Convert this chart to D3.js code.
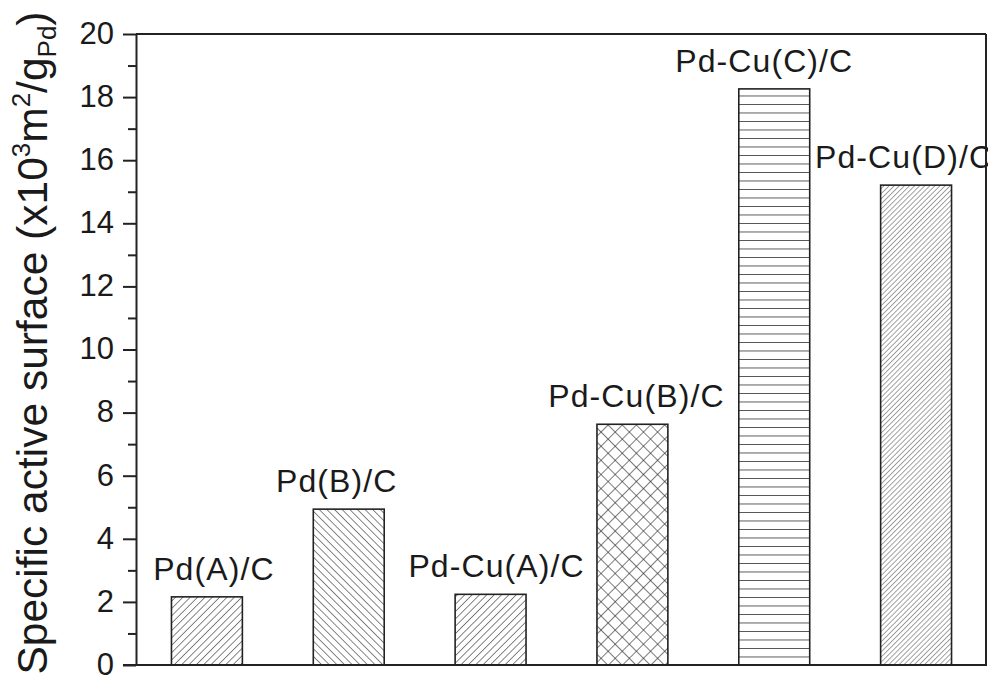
<!DOCTYPE html>
<html>
<head>
<meta charset="utf-8">
<script src="https://cdn.jsdelivr.net/npm/d3@7"></script>
<style>
  html, body { margin: 0; padding: 0; background: #fff; }
  svg { display: block; font-family: "Liberation Sans", Arial, Helvetica, sans-serif; }
</style>
</head>
<body>
<svg id="chart" width="988" height="678"></svg>
<script>
// ---- data ----
const categories = ["Pd(A)/C", "Pd(B)/C", "Pd-Cu(A)/C", "Pd-Cu(B)/C", "Pd-Cu(C)/C", "Pd-Cu(D)/C"];
const values = [2.16, 4.94, 2.24, 7.63, 18.26, 15.21];
const yTicks = [0, 2, 4, 6, 8, 10, 12, 14, 16, 18, 20];
const yMinorTicks = [1, 3, 5, 7, 9, 11, 13, 15, 17, 19];

// ---- layout / style (not data) ----
const hatchStyles = ["fwd", "back", "fwd", "cross", "horiz", "fwdDense"];
const labelShift = [7, -12, 6, 4, -10, -12];
const M = { left: 136, top: 34, right: 987, bottom: 665 };

const svg = d3.select("#chart");
const defs = svg.append("defs");

function diagPattern(id, spacing, angle, sw, color) {
  const p = defs.append("pattern").attr("id", id)
    .attr("patternUnits", "userSpaceOnUse")
    .attr("width", spacing).attr("height", spacing)
    .attr("patternTransform", `rotate(${angle})`);
  p.append("line").attr("x1", 0).attr("y1", -1).attr("x2", 0).attr("y2", spacing + 1)
    .attr("stroke", color).attr("stroke-width", sw);
}
diagPattern("fwd", 5.2, 45, 1.1, "#222");
diagPattern("back", 5.4, -45, 1.1, "#222");
diagPattern("fwdDense", 3.6, 45, 1.0, "#444");
{
  const s = 10;
  const p = defs.append("pattern").attr("id", "cross")
    .attr("patternUnits", "userSpaceOnUse").attr("width", s).attr("height", s)
    .attr("patternTransform", "rotate(45)");
  p.append("line").attr("x1", 0).attr("y1", -1).attr("x2", 0).attr("y2", s + 1)
    .attr("stroke", "#222").attr("stroke-width", 1.2);
  p.append("line").attr("x1", -1).attr("y1", 0).attr("x2", s + 1).attr("y2", 0)
    .attr("stroke", "#222").attr("stroke-width", 1.2);
}
{
  const s = 8.5;
  const p = defs.append("pattern").attr("id", "horiz")
    .attr("patternUnits", "userSpaceOnUse").attr("width", s).attr("height", s)
    .attr("y", 2);
  p.append("line").attr("x1", -1).attr("y1", 0).attr("x2", s + 1).attr("y2", 0)
    .attr("stroke", "#333").attr("stroke-width", 1.6);
}

const x = d3.scaleBand().domain(categories)
  .range([M.left, M.right]).paddingInner(0.5).paddingOuter(0.25);
const y = d3.scaleLinear().domain([0, 20]).range([M.bottom, M.top]);

// bars
svg.append("g").selectAll("rect").data(categories).join("rect")
  .attr("x", d => x(d))
  .attr("y", (d, i) => y(values[i]))
  .attr("width", x.bandwidth())
  .attr("height", (d, i) => y(0) - y(values[i]))
  .attr("fill", (d, i) => `url(#${hatchStyles[i]})`)
  .attr("stroke", "#222").attr("stroke-width", 1.6);

// bar labels
svg.append("g").selectAll("text").data(categories).join("text")
  .attr("x", (d, i) => x(d) + x.bandwidth() / 2 + labelShift[i])
  .attr("y", (d, i) => y(values[i]) - 17)
  .attr("text-anchor", "middle")
  .attr("font-size", 32)
  .attr("letter-spacing", 1.1)
  .attr("fill", "#1a1a1a")
  .text(d => d);

// y axis major
const yAxis = svg.append("g").attr("transform", `translate(${M.left},0)`)
  .call(d3.axisLeft(y).tickValues(yTicks).tickSize(13).tickPadding(9).tickSizeOuter(0));
yAxis.select(".domain").attr("stroke", "#222").attr("stroke-width", 2);
yAxis.selectAll(".tick line").attr("stroke", "#222").attr("stroke-width", 2);
yAxis.selectAll(".tick text").attr("font-size", 31).attr("fill", "#1a1a1a")
  .attr("dy", "0.3em")
  .attr("font-family", "'Liberation Sans', Arial, sans-serif");

// minor ticks
const yMinor = svg.append("g").attr("transform", `translate(${M.left},0)`)
  .call(d3.axisLeft(y).tickValues(yMinorTicks).tickSize(8).tickFormat("").tickSizeOuter(0));
yMinor.select(".domain").remove();
yMinor.selectAll(".tick line").attr("stroke", "#222").attr("stroke-width", 2);

// frame: top, right, bottom
const frame = svg.append("g").attr("fill", "none").attr("stroke", "#222").attr("stroke-width", 2);
frame.append("line").attr("x1", M.left).attr("x2", M.right - 1).attr("y1", M.top).attr("y2", M.top);
frame.append("line").attr("x1", M.right - 1).attr("x2", M.right - 1).attr("y1", M.top).attr("y2", M.bottom);
frame.append("line").attr("x1", M.left - 13).attr("x2", M.right).attr("y1", M.bottom).attr("y2", M.bottom);

// y axis title
const title = svg.append("text")
  .attr("transform", `translate(47, 343) rotate(-90)`)
  .attr("text-anchor", "middle")
  .attr("font-size", 42.5)
  .attr("fill", "#1a1a1a");
title.append("tspan").text("Specific active surface (x10");
title.append("tspan").attr("font-size", 26).attr("dy", -17).text("3");
title.append("tspan").attr("dy", 17).text("m");
title.append("tspan").attr("font-size", 26).attr("dy", -17).text("2");
title.append("tspan").attr("dy", 17).text("/g");
title.append("tspan").attr("font-size", 26).attr("dy", 9).text("Pd");
title.append("tspan").attr("dy", -9).text(")");
</script>
</body>
</html>
